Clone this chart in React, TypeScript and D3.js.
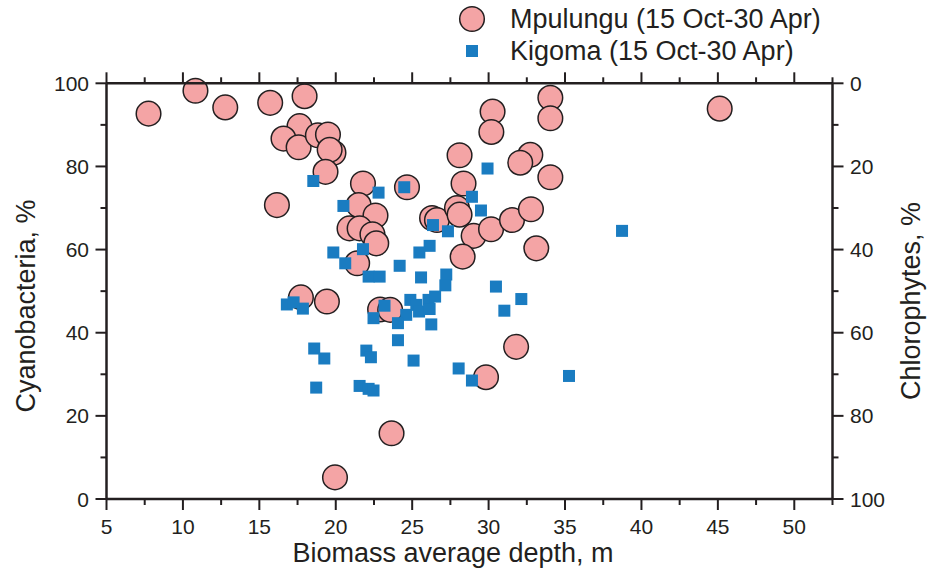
import React from "react";
import * as d3 from "d3";

const mpulunguX = [7.75, 10.82, 12.77, 15.71, 17.96, 17.63, 16.58, 17.57, 18.83, 19.49, 19.85, 19.6, 19.33, 16.15, 21.78, 24.66, 21.5, 22.6, 20.9, 21.56, 22.4, 22.65, 21.4, 28.1, 30.26, 30.18, 34.04, 34.04, 32.73, 32.07, 34.04, 28.36, 26.3, 26.62, 27.93, 28.1, 29.02, 30.16, 31.53, 32.77, 28.3, 33.12, 17.72, 19.42, 22.9, 23.56, 31.8, 29.83, 23.65, 19.95, 45.12];
const mpulunguY = [92.7, 98.2, 94.2, 95.3, 96.9, 89.7, 86.7, 84.6, 87.5, 87.7, 83.3, 84.0, 78.7, 70.7, 75.9, 75.0, 70.7, 68.2, 65.1, 65.1, 63.7, 61.5, 56.7, 82.7, 93.2, 88.3, 96.5, 91.6, 82.8, 80.9, 77.4, 75.9, 67.6, 67.1, 70.0, 68.4, 63.3, 64.9, 67.1, 69.7, 58.3, 60.3, 48.5, 47.5, 45.6, 45.5, 36.6, 29.3, 15.8, 5.2, 93.9];

const kigomaX = [18.53, 20.5, 19.84, 20.62, 22.8, 29.93, 28.91, 29.5, 26.36, 27.34, 21.78, 26.14, 25.47, 24.18, 22.15, 22.87, 25.58, 27.23, 27.17, 30.48, 32.14, 31.03, 17.85, 16.8, 17.24, 23.19, 22.47, 24.88, 25.27, 25.45, 26.07, 26.5, 26.14, 24.61, 24.07, 26.25, 24.07, 18.59, 19.25, 22.0, 22.3, 25.09, 28.04, 28.91, 35.26, 18.72, 21.56, 22.15, 22.47, 24.48, 38.73];
const kigomaY = [76.5, 70.5, 59.3, 56.7, 73.7, 79.5, 72.7, 69.4, 65.9, 64.4, 60.1, 60.9, 59.3, 56.1, 53.5, 53.5, 53.3, 54.0, 51.4, 51.1, 48.1, 45.3, 45.8, 46.8, 47.3, 46.5, 43.5, 47.9, 46.7, 45.1, 47.9, 48.7, 45.7, 44.3, 42.3, 42.0, 38.2, 36.2, 33.8, 35.7, 34.1, 33.3, 31.4, 28.5, 29.6, 26.8, 27.2, 26.5, 26.1, 75.0, 64.5];

const xTicks = [5, 10, 15, 20, 25, 30, 35, 40, 45, 50];
const yTicks = [0, 20, 40, 60, 80, 100];
const seriesNames = ["Mpulungu (15 Oct-30 Apr)", "Kigoma (15 Oct-30 Apr)"];
const xTitle = "Biomass average depth, m";
const yTitle = "Cyanobacteria, %";
const y2Title = "Chlorophytes, %";

const INK = "#231f20";
const PINK = "#f4a4a5";
const BLUE = "#1a7cc1";
const FONT = "'Liberation Sans', Arial, sans-serif";

export default function App() {
  const L = 106.5, R = 832.5, T = 83.3, B = 499;
  const x = d3.scaleLinear().domain([5, 52.5]).range([L, R]);
  const y = d3.scaleLinear().domain([0, 100]).range([B, T]);
  const y2 = d3.scaleLinear().domain([0, 100]).range([T, B]);
  const xMinor = d3.range(5, 52.6, 2.5);
  const yMinor = d3.range(0, 101, 10);
  const sq = 12;

  return (
    <svg width={927} height={577} style={{ position: "absolute", left: 0, top: 0, background: "#fff" }} fontFamily={FONT}>
      <g>
        {mpulunguX.map((v, i) => (
          <circle key={"m" + i} cx={x(v)} cy={y(mpulunguY[i])} r={12.3} fill={PINK} stroke={INK} strokeWidth={1.5} />
        ))}
        {kigomaX.map((v, i) => (
          <rect key={"k" + i} x={x(v) - sq / 2} y={y(kigomaY[i]) - sq / 2} width={sq} height={sq} fill={BLUE} />
        ))}
      </g>

      <g stroke={INK} fill="none">
        <line x1={L} x2={R} y1={B} y2={B} strokeWidth={2.5} />
        <line x1={L} x2={R} y1={T} y2={T} strokeWidth={2.5} />
        <line x1={L} x2={L} y1={T} y2={B} strokeWidth={2.5} />
        <line x1={R} x2={R} y1={T} y2={B} strokeWidth={2.5} />
        {xMinor.map((v, i) => {
          const major = Math.abs(v % 5) < 1e-6;
          const len = major ? 11 : 6;
          return (
            <g key={"xt" + i}>
              <line x1={x(v)} x2={x(v)} y1={B} y2={B + len} strokeWidth={2} />
              <line x1={x(v)} x2={x(v)} y1={T} y2={T - len} strokeWidth={2} />
            </g>
          );
        })}
        {yMinor.map((v, i) => {
          const major = v % 20 === 0;
          const len = major ? 11 : 6;
          return (
            <g key={"yt" + i}>
              <line x1={L} x2={L - len} y1={y(v)} y2={y(v)} strokeWidth={2} />
              <line x1={R} x2={R + len} y1={y2(v)} y2={y2(v)} strokeWidth={2} />
            </g>
          );
        })}
      </g>

      <g fill={INK} fontSize={21}>
        {xTicks.map((v) => (
          <text key={"xl" + v} x={x(v)} y={534} textAnchor="middle">{v}</text>
        ))}
        {yTicks.map((v) => (
          <text key={"yl" + v} x={89} y={y(v) + 7.5} textAnchor="end">{v}</text>
        ))}
        {yTicks.map((v) => (
          <text key={"y2l" + v} x={850} y={y2(v) + 7.5} textAnchor="start">{v}</text>
        ))}
      </g>

      <g fill={INK} fontSize={27}>
        <text x={453} y={562} textAnchor="middle">{xTitle}</text>
        <text transform={`translate(35,306) rotate(-90)`} textAnchor="middle">{yTitle}</text>
        <text transform={`translate(920,301) rotate(-90)`} textAnchor="middle">{y2Title}</text>
      </g>

      <g>
        <circle cx={472} cy={19} r={12.3} fill={PINK} stroke={INK} strokeWidth={1.5} />
        <rect x={472 - sq / 2} y={51 - sq / 2} width={sq} height={sq} fill={BLUE} />
        <text x={510} y={28} fontSize={27} fill={INK}>{seriesNames[0]}</text>
        <text x={510} y={60} fontSize={27} fill={INK}>{seriesNames[1]}</text>
      </g>
    </svg>
  );
}
